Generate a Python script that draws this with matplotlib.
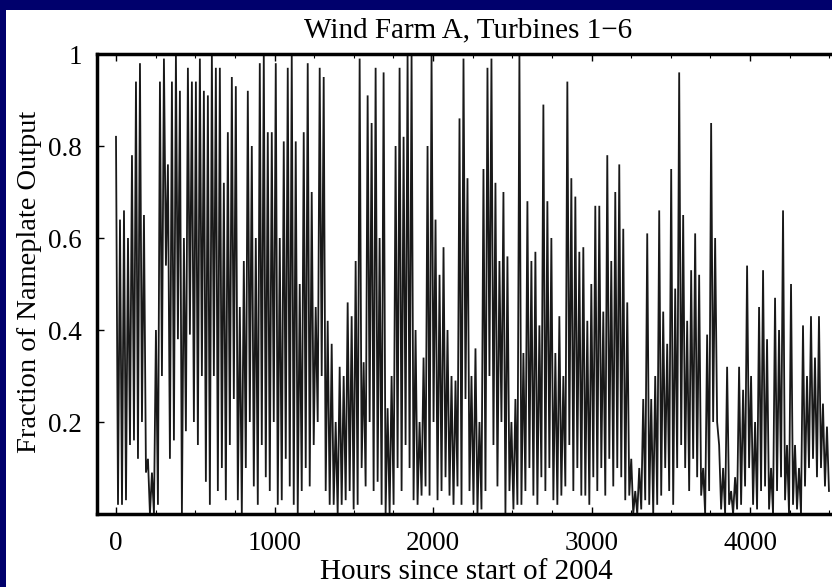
import numpy as np
import matplotlib
matplotlib.use("Agg")
import matplotlib.pyplot as plt
from matplotlib.patches import Rectangle
from matplotlib.ticker import MultipleLocator

# Values: for each ~25-hour window, the local peak and trough
peaks = [
    0.82,0.64,0.66,0.6,0.78,0.94,0.98,0.65,0.12,0.09,0.4,0.94,0.99,0.76,0.94,1.0,0.92,0.6,0.97,0.94,0.94,0.99,0.92,0.91,1.0,0.97,
    0.97,
    0.72,0.83,0.95,0.93,0.45,0.55,0.92,0.8,0.6,0.98,1.0,0.83,0.83,0.98,0.6,0.81,0.97,1.0,0.81,0.5,0.83,0.98,0.7,0.45,0.97,0.95,0.42,0.37,0.2,0.32,
    0.3,0.46,0.43,0.55,0.99,0.33,0.91,0.85,0.97,0.6,0.96,0.23,0.3,0.8,0.97,0.82,1.0,1.0,0.4,0.2,0.34,0.8,1.0,0.64,0.52,0.58,0.4,0.3,0.29,0.86,
    0.99,0.73,0.3,0.36,0.2,0.75,0.97,0.99,0.72,0.55,0.7,0.56,0.2,0.25,1.0,0.35,0.68,0.55,0.57,0.41,0.89,0.68,0.6,0.35,0.43,0.3,0.94,0.73,0.69,0.57,
    0.58,0.42,0.5,0.67,0.67,0.44,0.78,0.55,0.7,0.76,0.62,0.46,0.12,0.05,0.1,0.25,0.61,0.25,0.3,0.66,0.44,0.37,0.75,0.49,0.96,0.65,0.42,0.53,0.61,0.52,
    0.1,0.39,0.85,0.6,0.15,0.1,0.32,0.05,0.08,0.32,0.27,0.54,0.3,0.2,0.45,0.53,0.38,0.1,0.47,0.4,0.66,0.15,0.5,0.15,0.1,0.41,0.3,0.43,0.34,0.43,0.24,0.19,
]
troughs = [
    0.02,0.02,0.03,0.15,0.16,0.12,0.2,0.09,0.0,0.0,0.02,0.3,0.54,0.12,0.16,0.38,0.0,0.18,0.39,0.2,0.15,0.3,0.07,0.02,0.3,0.05,
    0.1,
    0.03,0.15,0.25,0.03,0.0,0.1,0.2,0.06,0.02,0.15,0.08,0.05,0.2,0.02,0.03,0.12,0.06,0.02,0.0,0.05,0.1,0.06,0.15,0.2,0.3,0.05,0.02,0.02,0.0,0.02,
    0.03,0.05,0.01,0.02,0.1,0.06,0.2,0.05,0.07,0.02,0.0,0.0,0.02,0.1,0.05,0.15,0.1,0.03,0.02,0.04,0.06,0.04,0.2,0.03,0.05,0.08,0.04,0.02,0.06,0.02,
    0.25,0.05,0.02,0.0,0.01,0.05,0.3,0.15,0.06,0.2,0.0,0.05,0.01,0.02,0.02,0.05,0.1,0.04,0.02,0.08,0.05,0.1,0.03,0.02,0.04,0.06,0.15,0.05,0.1,0.04,
    0.04,0.02,0.08,0.05,0.1,0.04,0.12,0.06,0.1,0.08,0.03,0.04,0.0,0.0,0.01,0.03,0.02,0.0,0.02,0.04,0.1,0.05,0.02,0.1,0.15,0.1,0.05,0.12,0.08,0.04,
    0.0,0.05,0.2,0.2,0.01,0.0,0.02,0.0,0.01,0.02,0.06,0.1,0.02,0.01,0.05,0.06,0.01,0.0,0.05,0.08,0.03,0.0,0.02,0.01,0.0,0.06,0.1,0.12,0.08,0.1,0.06,0.05,
]
window_hours = 25.2  # width of each read-off window

xtick_vals = [0, 1000, 2000, 3000, 4000]
ytick_vals = [0.2, 0.4, 0.6, 0.8, 1.0]
ytick_labels = ["0.2", "0.4", "0.6", "0.8", "1"]

title = "Wind Farm A, Turbines 1\u22126"
xlabel = "Hours since start of 2004"
ylabel = "Fraction of Nameplate Output"

# interleave peak / trough into one trace
n = len(peaks)
hours = np.empty(2 * n)
vals = np.empty(2 * n)
hours[0::2] = np.arange(n) * window_hours
hours[1::2] = np.arange(n) * window_hours + window_hours / 2
vals[0::2] = peaks
vals[1::2] = troughs

plt.rcParams['font.family'] = ['Liberation Serif', 'DejaVu Serif']

W, H = 832, 587
fig = plt.figure(figsize=(W / 100, H / 100), dpi=100)
fig.patch.set_facecolor('#00006c')
fig.patches.append(Rectangle((6 / W, 0), 1 - 6 / W, 1 - 10 / H, transform=fig.transFigure,
                             facecolor='white', edgecolor='none', zorder=-5))

left, right, top, bottom = 97, 836, 54, 514
x0_px, px_per_hour = 116, 0.1585
ax = fig.add_axes([left / W, 1 - bottom / H, (right - left) / W, (bottom - top) / H])
ax.set_zorder(1)
ax.set_facecolor('white')
ax.plot(hours, vals, color='black', lw=1.3, alpha=0.9, solid_joinstyle='miter')

ax.set_xlim((left - x0_px) / px_per_hour, (right - x0_px) / px_per_hour)
ax.set_ylim(0, 1)
ax.set_xticks(xtick_vals)
ax.set_xticklabels([str(v) for v in xtick_vals])
ax.set_yticks(ytick_vals)
ax.set_yticklabels(ytick_labels)
ax.xaxis.set_minor_locator(MultipleLocator(250))
ax.tick_params(axis='both', which='major', direction='in', length=5, width=1,
               labelsize=19.5, top=True, right=False)
ax.tick_params(axis='x', which='major', pad=12)
ax.tick_params(axis='y', which='major', pad=11)
ax.tick_params(axis='x', which='minor', direction='in', length=3, width=0.8, top=True)
for s in ax.spines.values():
    s.set_linewidth(2.5)

fig.text(468 / W, 1 - 30 / H, title, ha='center', va='center', fontsize=21)
fig.text(466 / W, 1 - 572 / H, xlabel, ha='center', va='center', fontsize=21)
fig.text(30 / W, 1 - 282 / H, ylabel, ha='center', va='center', rotation=90, fontsize=20.5)

fig.savefig("out.png", dpi=100, facecolor=fig.get_facecolor())
